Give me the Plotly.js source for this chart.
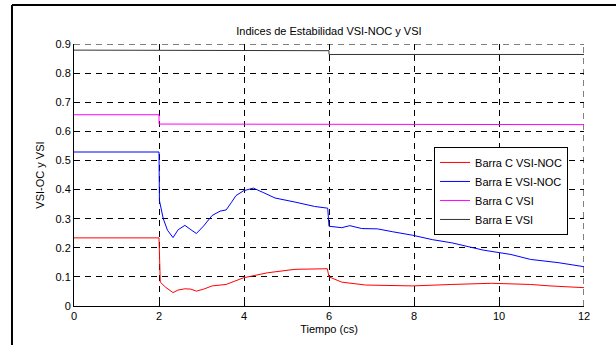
<!DOCTYPE html>
<html>
<head>
<meta charset="utf-8">
<script src="https://cdn.plot.ly/plotly-3.0.1.min.js"></script>
<style>html,body{margin:0;padding:0;background:#fff;}#chart{width:616px;height:345px;}</style>
</head>
<body>
<div id="chart"></div>
<script>
// Barra C VSI-NOC (red)
const tRedC = [0, 2, 2.03, 2.15, 2.33, 2.45, 2.61, 2.75, 2.88, 3.05, 3.25, 3.58, 3.99, 4.55, 5.2, 5.96, 6.0, 6.3, 6.86, 7.97, 8.89, 9.82, 10.74, 11.2, 12];
const vRedC = [0.234, 0.234, 0.082, 0.065, 0.046, 0.055, 0.059, 0.058, 0.051, 0.058, 0.069, 0.074, 0.097, 0.114, 0.126, 0.128, 0.100, 0.082, 0.072, 0.069, 0.074, 0.078, 0.074, 0.069, 0.063];
// Barra E VSI-NOC (blue)
const tBlueE = [0, 2, 2.01, 2.1, 2.2, 2.33, 2.45, 2.61, 2.75, 2.88, 3.05, 3.25, 3.44, 3.58, 3.7, 3.81, 3.99, 4.22, 4.45, 4.73, 5.2, 5.66, 5.97, 6.0, 6.3, 6.49, 6.77, 7.14, 7.5, 7.97, 8.43, 8.89, 9.63, 10.28, 10.74, 11.39, 12];
const vBlueE = [0.529, 0.529, 0.362, 0.30, 0.26, 0.235, 0.262, 0.277, 0.262, 0.249, 0.275, 0.311, 0.326, 0.330, 0.355, 0.379, 0.396, 0.405, 0.390, 0.371, 0.357, 0.342, 0.336, 0.274, 0.269, 0.276, 0.266, 0.265, 0.255, 0.243, 0.228, 0.217, 0.192, 0.177, 0.160, 0.149, 0.135];
// Barra C VSI (magenta)
const tMagC = [0, 2, 2, 4, 4, 12];
const vMagC = [0.657, 0.657, 0.625, 0.625, 0.623, 0.623];
// Barra E VSI (black)
const tBlkE = [0, 2, 2, 2.5, 2.5, 2.8, 2.8, 6, 6, 12];
const vBlkE = [0.879, 0.879, 0.877, 0.877, 0.879, 0.879, 0.877, 0.877, 0.864, 0.864];

const seriesNames = ['Barra C VSI-NOC', 'Barra E VSI-NOC', 'Barra C VSI', 'Barra E VSI'];
const xTicks = [0, 2, 4, 6, 8, 10, 12];
const yTicks = [0, 0.1, 0.2, 0.3, 0.4, 0.5, 0.6, 0.7, 0.8, 0.9];
const yTickText = ['0', '0.1', '0.2', '0.3', '0.4', '0.5', '0.6', '0.7', '0.8', '0.9'];
const xMax = xTicks[xTicks.length - 1];
const yMax = yTicks[yTicks.length - 1];

const traces = [
  {x: tRedC, y: vRedC, name: seriesNames[0], mode: 'lines', line: {color: '#ff0000', width: 1}},
  {x: tBlueE, y: vBlueE, name: seriesNames[1], mode: 'lines', line: {color: '#0000ff', width: 1}},
  {x: tMagC, y: vMagC, name: seriesNames[2], mode: 'lines', line: {color: '#ff00ff', width: 1}},
  {x: tBlkE, y: vBlkE, name: seriesNames[3], mode: 'lines', line: {color: '#333333', width: 1}}
];

const fnt = {family: 'Liberation Sans, Arial, sans-serif', size: 11, color: '#000'};
const gridDash = '6px,5px';

const layout = {
  width: 616, height: 345,
  margin: {l: 74, r: 32, t: 44, b: 39},
  paper_bgcolor: '#fff', plot_bgcolor: '#fff',
  font: fnt,
  showlegend: true,
  title: {text: 'Indices de Estabilidad VSI-NOC y VSI', font: {family: fnt.family, size: 11, color: '#000'}, x: 0.534, xanchor: 'center', y: 0.91, yanchor: 'middle'},
  xaxis: {
    range: [0, xMax], tickvals: xTicks, ticktext: xTicks.map(String),
    showline: true, linecolor: '#000', linewidth: 1,
    ticks: 'inside', ticklen: 4, tickcolor: '#000',
    showgrid: true, gridcolor: '#000', gridwidth: 1, griddash: gridDash,
    zeroline: false, tickfont: fnt,
    title: {text: 'Tiempo (cs)', font: fnt, standoff: 4}
  },
  yaxis: {
    range: [0, yMax], tickvals: yTicks, ticktext: yTickText,
    showline: true, linecolor: '#000', linewidth: 1,
    ticks: 'inside', ticklen: 4, tickcolor: '#000',
    showgrid: true, gridcolor: '#000', gridwidth: 1, griddash: gridDash,
    zeroline: false, tickfont: fnt,
    title: {text: 'VSI-OC y VSI', font: fnt, standoff: 8}
  },
  legend: {
    x: 0.706, y: 0.607, xanchor: 'left', yanchor: 'top',
    bgcolor: '#fff', bordercolor: '#000', borderwidth: 1,
    font: fnt, tracegroupgap: 0
  },
  shapes: [
    // edge grid lines (top and right) that Plotly omits
    {type: 'line', xref: 'x', yref: 'y', x0: 0, x1: xMax, y0: yMax, y1: yMax, layer: 'below', line: {color: '#000', width: 1, dash: gridDash}},
    {type: 'line', xref: 'x', yref: 'y', x0: xMax, x1: xMax, y0: 0, y1: yMax, layer: 'below', line: {color: '#000', width: 1, dash: gridDash}},
    // outer frame
    {type: 'line', xref: 'paper', yref: 'paper', x0: -0.1216, x1: 1.07, y0: 1.1489, y1: 1.1489, line: {color: '#000', width: 2}},
    {type: 'line', xref: 'paper', yref: 'paper', x0: -0.1216, x1: -0.1216, y0: 1.1489, y1: -0.16, line: {color: '#000', width: 2}}
  ]
};

Plotly.newPlot('chart', traces, layout, {displayModeBar: false, staticPlot: true});
</script>
</body>
</html>
